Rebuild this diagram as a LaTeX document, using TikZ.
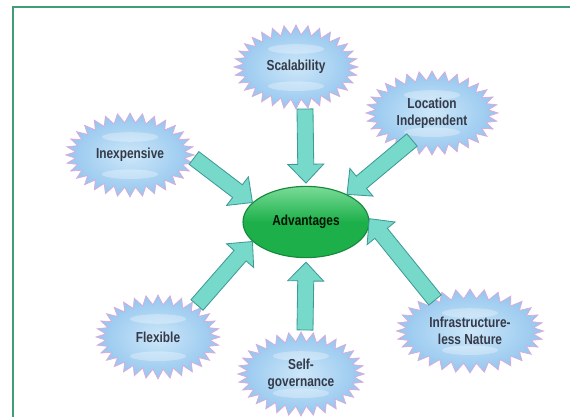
\documentclass[tikz,border=0pt]{standalone}
\usepackage{fontspec}
\usetikzlibrary{shapes.symbols, shapes.geometric, calc}
\newfontfamily\narrow{Liberation Sans}[FakeStretch=0.82]
\definecolor{cFrame}{HTML}{3F9E78}
\definecolor{cStar}{HTML}{94C6EE}
\definecolor{cStarIn}{HTML}{CDE7F9}
\definecolor{cRim}{HTML}{DDA9DA}
\definecolor{cText}{HTML}{353A48}
\definecolor{cAdv}{HTML}{1DB04A}
\definecolor{cAdvTop}{HTML}{7ADB98}
\definecolor{cAdvRim}{HTML}{15893A}
\definecolor{cArrow}{HTML}{76D9CA}
\definecolor{cArrowRim}{HTML}{3E9A96}

\begin{document}
\begin{tikzpicture}[
    x=1cm, y=1cm, font=\narrow\bfseries\fontsize{10.3}{12.2}\selectfont,
    burst/.style={shape=starburst, starburst points=32,
        starburst point height=0.24cm, random starburst=0,
        draw=cRim, line width=0.5pt, inner color=cStarIn, outer color=cStar,
        minimum width=3.1cm, minimum height=2.1cm, text=cText, align=center,
        path picture={
            \fill[white, opacity=0.3] ($(path picture bounding box.center)+(0,0.45)$) ellipse (0.7 and 0.12);
            \fill[white, opacity=0.3] ($(path picture bounding box.center)+(0,-0.48)$) ellipse (0.7 and 0.12);
        }},
    adv/.style={ellipse, draw=cAdvRim, line width=0.8pt,
        top color=cAdvTop, bottom color=cAdv, middle color=cAdv,
        minimum width=3.15cm, minimum height=1.78cm, text=black!80!green!40!black},
    fat/.style={draw=cArrowRim, fill=cArrow, line width=0.6pt, line join=miter},
]

\def\shaft{0.2cm}   % half width of the arrow body
\def\headw{0.45cm}  % half width of the arrow head
\def\headl{0.47cm}  % length of the arrow head

\useasboundingbox (0,0) rectangle (14.25,10.425);

% ===================== Frame =====================
\draw[cFrame, line width=1.5pt] (0.325,-0.2) -- (0.325,10.25) -- (14.5,10.25);

% ===================== Nodes =====================
\node[adv] (adv) at (7.65,4.875) {Advantages};

\node[burst] (scal)  at (7.40,8.75)  {Scalability};
\node[burst] (loc)   at (10.80,7.60) {Location\\Independent};
\node[burst] (inex)  at (3.25,6.55)  {Inexpensive};
\node[burst] (flex)  at (3.95,2.00)  {Flexible};
\node[burst] (self)  at (7.525,1.075) {Self-\\governance};
\node[burst, minimum width=3.4cm] (infra) at (11.75,2.15) {Infrastructure-\\less Nature};

% ===================== Arrow ends =====================
\coordinate (s1) at ($(scal)+(0.225,-1.05)$);
\coordinate (s2) at ($(loc)+(-0.5,-0.675)$);
\coordinate (s3) at ($(inex)+(1.6,-0.075)$);
\coordinate (s4) at ($(flex)+(0.975,0.8)$);
\coordinate (s5) at ($(self)+(0.1,1.1)$);
\coordinate (s6) at ($(infra)+(-0.875,0.775)$);

\coordinate (e1) at ($(adv.north)+(0,0.07)$);
\coordinate (e2) at (adv.34);
\coordinate (e3) at (adv.160);
\coordinate (e4) at (adv.200);
\coordinate (e5) at ($(adv.south)+(0,-0.1)$);
\coordinate (e6) at (adv.3);

% ===================== Block arrows =====================
\foreach \a/\b in {s1/e1, s2/e2, s3/e3, s4/e4, s5/e5, s6/e6} {
    \coordinate (hb) at ($(\b)!\headl!(\a)$);
    \draw[fat] ($(\a)!\shaft!90:(\b)$) -- ($(hb)!\shaft!-90:(\a)$)
        -- ($(hb)!\headw!-90:(\a)$) -- (\b) -- ($(hb)!\headw!90:(\a)$)
        -- ($(hb)!\shaft!90:(\a)$) -- ($(\a)!\shaft!-90:(\b)$) -- cycle;
}

\end{tikzpicture}
\end{document}
